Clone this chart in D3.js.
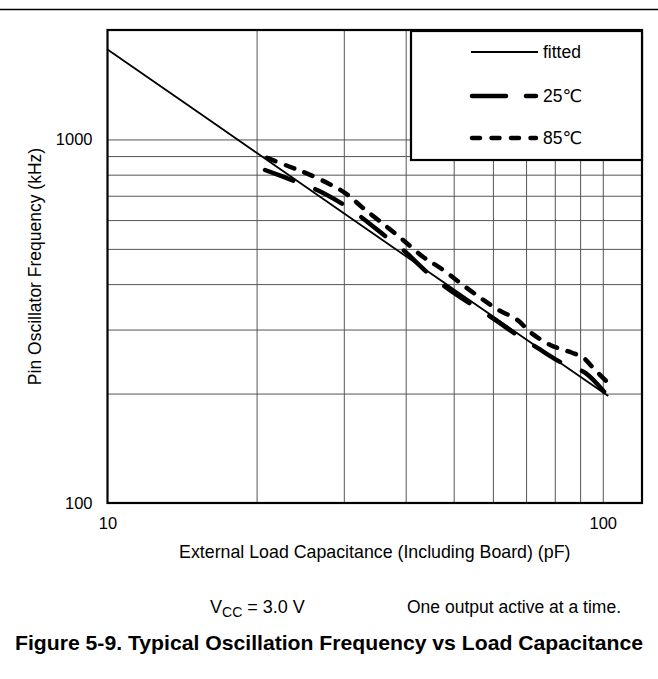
<!DOCTYPE html>
<html><head><meta charset="utf-8">
<script src="https://cdn.jsdelivr.net/npm/d3@7"></script>
<style>
body{margin:0;background:#fff}
svg{display:block}
text{font-family:"Liberation Sans",Arial,"DejaVu Sans",sans-serif;fill:#000}
</style>
</head><body>
<svg id="c" width="658" height="679"></svg>
<script>
// ---- data ----
const capFitted  = [10, 20, 50, 102.6];
const freqFitted = [1767, 919, 387, 197];

const cap25  = [20.8, 24.1, 26.5, 30.5, 32.7, 37.2, 39.5, 44.8, 48.5, 55.3, 59.8, 68.1, 73.8, 84.0, 92.2, 102.6];
const freq25 = [824, 764, 726, 652, 608, 529, 497, 424, 390, 346, 323, 286, 267, 240, 228, 196];

const cap85  = [21.0, 23.4, 25.1, 27.8, 30.2, 32.8, 36.7, 39.5, 43.4, 47.0, 53.2, 57.4, 61.5, 67.2, 71.4, 78.3, 83.2, 86.7, 91.3, 95.7, 103.5];
const freq85 = [890, 840, 809, 759, 712, 648, 574, 529, 475, 443, 390, 362, 340, 319, 295, 272, 264, 259, 251, 235, 211];

const xTickLabels = [10, 100];
const yTickLabels = [100, 1000];
const xGridValues = [20, 30, 40, 50, 60, 70, 80, 90, 100];
const yGridValues = [200, 300, 400, 500, 600, 700, 800, 900, 1000];

const legendNames = ["fitted", "25\u2103", "85\u2103"];

// ---- layout ----
const L = 107.5, R = 642, T = 30, B = 503;
const svg = d3.select("#c");

const x = d3.scaleLog().domain([10, 120]).range([L, R]);
const y = d3.scaleLog().domain([100, 2000]).range([B, T]);

// top rule
svg.append("line").attr("x1", 0).attr("x2", 658).attr("y1", 9.5).attr("y2", 9.5)
  .attr("stroke", "#000").attr("stroke-width", 1.6);

// grid
svg.append("g").attr("transform", `translate(0,${B})`)
  .call(d3.axisBottom(x).tickValues(xGridValues).tickSize(-(B - T)).tickFormat(""))
  .call(g => g.select(".domain").remove())
  .call(g => g.selectAll("line").attr("stroke", "#555").attr("stroke-width", 1));
svg.append("g").attr("transform", `translate(${L},0)`)
  .call(d3.axisLeft(y).tickValues(yGridValues).tickSize(-(R - L)).tickFormat(""))
  .call(g => g.select(".domain").remove())
  .call(g => g.selectAll("line").attr("stroke", "#555").attr("stroke-width", 1));

// tick labels
svg.append("g").attr("transform", `translate(${L},0)`)
  .call(d3.axisLeft(y).tickValues(yTickLabels).tickSize(0).tickPadding(15).tickFormat(d3.format("d")))
  .call(g => g.select(".domain").remove())
  .call(g => g.selectAll("text").attr("font-size", 16.5).attr("font-family", "Liberation Sans, Arial, sans-serif"));
svg.append("g").attr("transform", `translate(0,${B})`)
  .call(d3.axisBottom(x).tickValues(xTickLabels).tickSize(0).tickPadding(14).tickFormat(d3.format("d")))
  .call(g => g.select(".domain").remove())
  .call(g => g.selectAll("text").attr("font-size", 16.5).attr("font-family", "Liberation Sans, Arial, sans-serif"));

// clip
svg.append("clipPath").attr("id", "clip").append("rect")
  .attr("x", L).attr("y", T).attr("width", R - L).attr("height", B - T);

const line = d3.line().x(d => x(d[0])).y(d => y(d[1])).curve(d3.curveCatmullRom.alpha(0.5));
const plot = svg.append("g").attr("clip-path", "url(#clip)");

plot.append("path").datum(capFitted.map((c, i) => [c, freqFitted[i]]))
  .attr("d", line).attr("fill", "none").attr("stroke", "#000").attr("stroke-width", 1.8);
plot.append("path").datum(cap25.map((c, i) => [c, freq25[i]]))
  .attr("d", line).attr("fill", "none").attr("stroke", "#000").attr("stroke-width", 4.5)
  .attr("stroke-linecap", "round").attr("stroke-dasharray", "30,24");
plot.append("path").datum(cap85.map((c, i) => [c, freq85[i]]))
  .attr("d", line).attr("fill", "none").attr("stroke", "#000").attr("stroke-width", 4.5)
  .attr("stroke-linecap", "round").attr("stroke-dasharray", "9,11");

// frame
svg.append("rect").attr("x", L).attr("y", T).attr("width", R - L).attr("height", B - T)
  .attr("fill", "none").attr("stroke", "#000").attr("stroke-width", 2.2);

// legend
const lg = svg.append("g");
lg.append("rect").attr("x", 411).attr("y", 31).attr("width", R - 411).attr("height", 129)
  .attr("fill", "#fff").attr("stroke", "#000").attr("stroke-width", 2.2);
const legendY = [52, 96, 138];
const legendStyle = [
  {w: 1.8, dash: null},
  {w: 4.5, dash: "34,20,10,100"},
  {w: 4.5, dash: "8,11.5"}
];
legendNames.forEach((n, i) => {
  lg.append("line").attr("x1", i === 0 ? 471 : 472).attr("x2", i === 0 ? 538 : 536)
    .attr("y1", legendY[i]).attr("y2", legendY[i])
    .attr("stroke", "#000").attr("stroke-width", legendStyle[i].w)
    .attr("stroke-linecap", i === 0 ? "butt" : "round")
    .attr("stroke-dasharray", legendStyle[i].dash);
  lg.append("text").attr("x", 543).attr("y", legendY[i]).attr("dy", "0.35em")
    .attr("font-size", 17.5).text(n);
});

// axis titles
svg.append("text").attr("x", (L + R) / 2).attr("y", 558).attr("text-anchor", "middle")
  .attr("font-size", 17.8).text("External Load Capacitance (Including Board) (pF)");
svg.append("text").attr("transform", `translate(41,${(T + B) / 2}) rotate(-90)`)
  .attr("text-anchor", "middle").attr("font-size", 17.5).text("Pin Oscillator Frequency (kHz)");

// notes
const note = svg.append("text").attr("x", 210).attr("y", 613).attr("font-size", 18);
note.append("tspan").text("V");
note.append("tspan").attr("font-size", 14).attr("dy", 4).text("CC");
note.append("tspan").attr("dy", -4).text(" = 3.0 V");
svg.append("text").attr("x", 621).attr("y", 613).attr("text-anchor", "end")
  .attr("font-size", 17.5).text("One output active at a time.");

// figure title
svg.append("text").attr("x", 329).attr("y", 650).attr("text-anchor", "middle")
  .attr("font-size", 21).attr("font-weight", "bold")
  .attr("textLength", 628).attr("lengthAdjust", "spacingAndGlyphs")
  .text("Figure 5-9. Typical Oscillation Frequency vs Load Capacitance");
</script>
</body></html>
